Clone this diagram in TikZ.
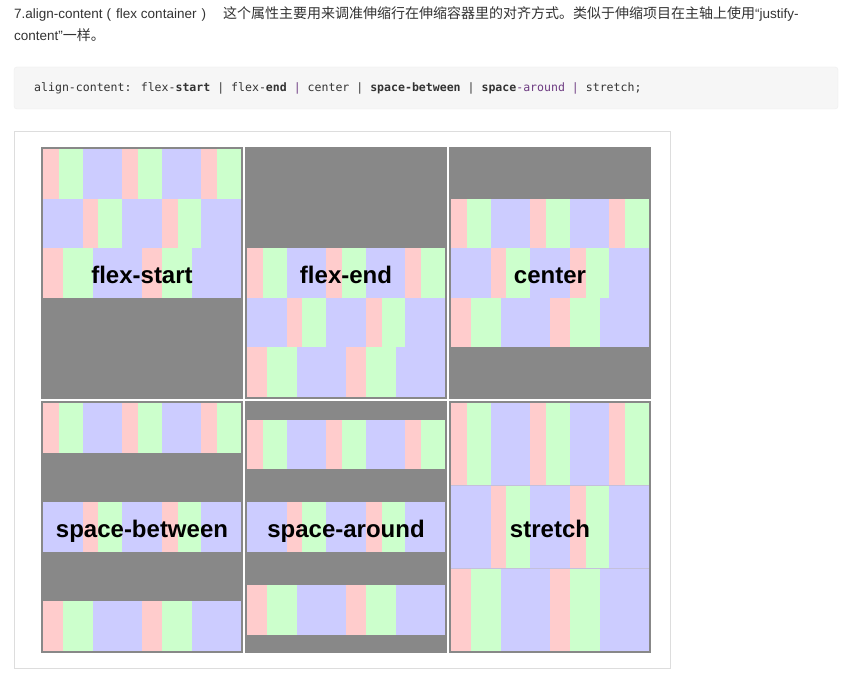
\documentclass[tikz,border=0pt]{standalone}
\usepackage{fontspec}
\setmainfont{Liberation Sans}
\newfontfamily\cjk{Noto Sans CJK SC}
\newfontfamily\codefont{DejaVu Sans Mono}
\definecolor{pinkc}{HTML}{FFCCCC}
\definecolor{greenc}{HTML}{CCFFCC}
\definecolor{bluec}{HTML}{CCCCFF}
\definecolor{panelgray}{HTML}{888888}
\definecolor{hdrc}{HTML}{333333}
\definecolor{codebg}{HTML}{F6F6F6}
\definecolor{codeborder}{HTML}{EEEEEE}
\definecolor{codepurple}{HTML}{6E3C82}
\definecolor{framec}{HTML}{DDDDDD}
\definecolor{stretchline}{HTML}{C4C0DC}
\tikzset{
  pk/.style={fill=pinkc},
  gr/.style={fill=greenc},
  bl/.style={fill=bluec},
  panelbox/.style={fill=panelgray},
  flexlabel/.style={anchor=base, inner sep=0pt, font=\fontsize{24}{28}\selectfont\bfseries, text=black},
}
\def\rowA{pk/16,gr/24,bl/40,pk/16,gr/24,bl/40,pk/16,gr/24}
\def\rowB{bl/40,pk/16,gr/24,bl/40,pk/16,gr/24,bl/40}
\def\rowC{pk/20,gr/30,bl/50,pk/20,gr/30,bl/50}
\newcommand\flexrow[4]{%
  \def\curx{#1}%
  \foreach \s/\w in #4 {%
    \fill[\s] (\curx,#2) rectangle ++(\w*0.99,#3);
    \pgfmathsetmacro\nextx{\curx+\w*0.99}%
    \xdef\curx{\nextx}%
  }%
}
\newcommand\threerows[5]{% x, y1, y2, y3, h
  \flexrow{#1}{#2}{#5}{\rowA}
  \flexrow{#1}{#3}{#5}{\rowB}
  \flexrow{#1}{#4}{#5}{\rowC}
}
\begin{document}
\begin{tikzpicture}[x=1pt,y=-1pt]
\useasboundingbox (0,0) rectangle (846,682);
\fill[white] (0,0) rectangle (846,682);

% header
\node[anchor=base west, inner sep=0pt, text=hdrc] (title1) at (14,19)
  {\fontsize{13.5}{16}\selectfont 7.align-content\hspace{4pt}(\hspace{5pt}flex container\hspace{5pt})\hspace{17pt}{\cjk\fontsize{14}{16}\selectfont 这个属性主要用来调准伸缩行在伸缩容器里的对齐方式。类似于伸缩项目在主轴上使用}“justify-};
\node[anchor=base west, inner sep=0pt, text=hdrc] (title2) at (14,40.5)
  {\fontsize{13.5}{16}\selectfont content”{\cjk\fontsize{14}{16}\selectfont 一样。}};

% code box
\draw[codeborder, fill=codebg, rounded corners=3pt] (14,67) rectangle (838,109);
\node[anchor=base west, inner sep=0pt, text=hdrc] (code) at (34,92)
  {\codefont\fontsize{11.55}{14}\selectfont align-content: flex-\textbf{start} | flex-\textbf{end} \textcolor{codepurple}{|} center | \textbf{space-between} | \textbf{space}\textcolor{codepurple}{-around} \textcolor{codepurple}{|} stretch;};

% outer frame
\draw[framec, line width=1pt] (14.5,131.5) rectangle (670.5,668.5);

% panels
\foreach \px in {41,245,449} {
  \foreach \py in {147,401} {
    \fill[panelbox] (\px,\py) rectangle ++(202,252);
  }
}

% flex-start
\threerows{43}{149}{198.6}{248.2}{49.6}
% flex-end
\threerows{247}{248.2}{297.8}{347.4}{49.6}
% center
\threerows{451}{198.6}{248.2}{297.8}{49.6}
% space-between
\threerows{43}{403}{502.2}{601.4}{49.6}
% space-around
\threerows{247}{419.5}{502.2}{584.9}{49.6}
% stretch
\threerows{451}{403}{485.67}{568.33}{82.67}
\draw[stretchline, line width=0.8pt] (451,485.67) -- (649,485.67);
\draw[stretchline, line width=0.8pt] (451,568.33) -- (649,568.33);

% labels
\node[flexlabel] (lab1) at (142,283) {flex-start};
\node[flexlabel] (lab2) at (346,283) {flex-end};
\node[flexlabel] (lab3) at (550,283) {center};
\node[flexlabel] (lab4) at (142,537) {space-between};
\node[flexlabel] (lab5) at (346,537) {space-around};
\node[flexlabel] (lab6) at (550,537) {stretch};
\end{tikzpicture}
\end{document}
